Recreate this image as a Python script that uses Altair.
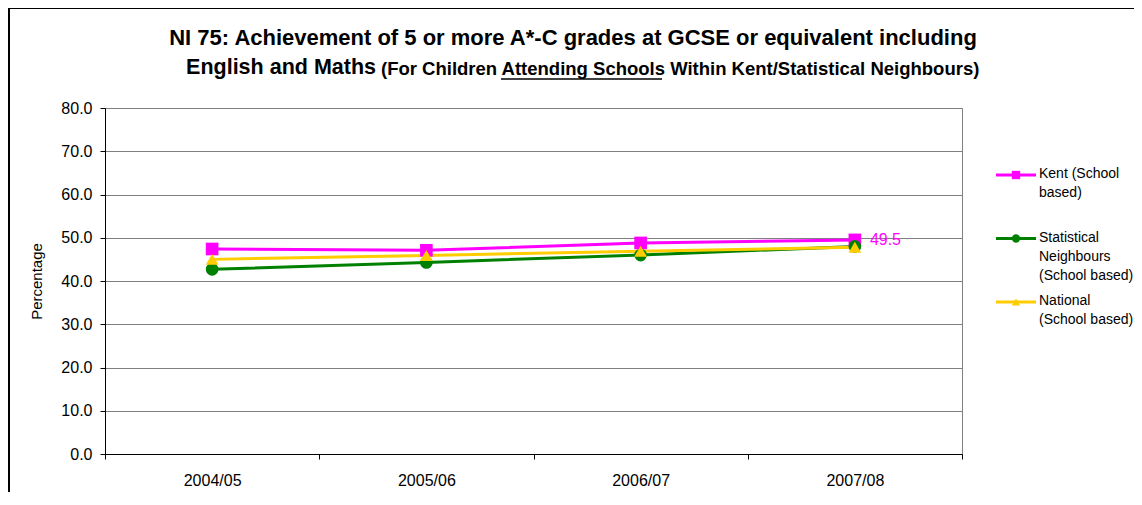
"""NI 75 line chart: 5+ A*-C GCSE incl. English and Maths (Kent vs neighbours vs national)."""

import json

import altair as alt
import pandas as pd

periods = ["2004/05", "2005/06", "2006/07", "2007/08"]
series = [
    "Kent (School based)",
    "Statistical Neighbours (School based)",
    "National (School based)",
]
legend_labels = [
    "Kent (School\nbased)",
    "Statistical\nNeighbours\n(School based)",
    "National\n(School based)",
]
kent = [47.4, 47.1, 48.8, 49.5]
stat_neighbours = [42.7, 44.3, 46.0, 48.0]
national = [45.0, 45.9, 46.9, 47.8]
y_ticks = [0, 10, 20, 30, 40, 50, 60, 70, 80]

title_line1 = "NI 75: Achievement of 5 or more A*-C grades at GCSE or equivalent including"
title_line2a = "English and Maths"
title_line2b = "(For Children Attending Schools Within Kent/Statistical Neighbours)"

colors = ["#FF00FF", "#008000", "#FFCC00"]
shapes = ["square", "circle", "triangle-up"]
FONT = "Liberation Sans"
W, H = 857, 346

# long table for the series
rows = []
for name, values in zip(series, [kent, stat_neighbours, national]):
    for i, (p, v) in enumerate(zip(periods, values)):
        rows.append({"series": name, "period": p, "idx": i, "value": v})
df = pd.DataFrame(rows)
df_legend = pd.DataFrame({"series": series, "label": legend_labels})

color_scale = alt.Scale(domain=series, range=colors)
shape_scale = alt.Scale(domain=series, range=shapes)

# category ticks sit on the band edges, labels are shifted to the middle
edges = [i - 0.5 for i in range(len(periods) + 1)]
label_expr = f"{json.dumps(periods)}[datum.value + 0.5] || ''"

x_enc = alt.X(
    "idx:Q",
    scale=alt.Scale(domain=[-0.5, len(periods) - 0.5], nice=False, zero=False),
    axis=alt.Axis(
        values=edges,
        labelExpr=label_expr,
        labelOffset=W / (2 * len(periods)),
        labelFlush=False,
        labelOverlap=False,
        labelBound=False,
        labelAlign="center",
        labelPadding=13,
        tickSize=5,
        grid=False,
        title=None,
    ),
)
y_enc = alt.Y(
    "value:Q",
    scale=alt.Scale(domain=[0, 80], nice=False),
    axis=alt.Axis(
        values=y_ticks,
        format=".1f",
        tickSize=5,
        labelPadding=8,
        grid=True,
        gridColor="#808080",
        title="Percentage",
        titleFontSize=15,
        titleFontWeight="normal",
        titlePadding=16,
    ),
)
color_enc = alt.Color("series:N", scale=color_scale, legend=None)
shape_enc = alt.Shape("series:N", scale=shape_scale, legend=None)

base = alt.Chart(df)
lines = base.mark_line(strokeWidth=3).encode(
    x=x_enc, y=y_enc, color=color_enc, detail="series:N"
)
points = base.mark_point(filled=True, size=160, opacity=1).encode(
    x="idx:Q", y="value:Q", color=color_enc, shape=shape_enc
)
last_label = (
    base.transform_filter(
        f"datum.series == {json.dumps(series[0])} && datum.period == {json.dumps(periods[-1])}"
    )
    .mark_text(align="left", baseline="middle", dx=15, fontSize=16, color=colors[0])
    .encode(x="idx:Q", y="value:Q", text=alt.Text("value:Q", format=".1f"))
)

# outer chart frame
frame = (
    alt.Chart(pd.DataFrame({"k": [0]}))
    .mark_rect(fillOpacity=0, stroke="black", strokeWidth=2)
    .encode(x=alt.value(-96), x2=alt.value(1300), y=alt.value(-100), y2=alt.value(700))
)

# title: two lines, second one in mixed sizes with an underline
one = pd.DataFrame({"t1": [title_line1], "t2a": [title_line2a], "t2b": [title_line2b]})
title1 = (
    alt.Chart(one)
    .mark_text(align="center", baseline="middle", fontSize=22, fontWeight="bold")
    .encode(x=alt.value(468), y=alt.value(-70), text="t1:N")
)
title2a = (
    alt.Chart(one)
    .mark_text(align="right", baseline="middle", fontSize=21.5, fontWeight="bold")
    .encode(x=alt.value(271), y=alt.value(-40), text="t2a:N")
)
title2b = (
    alt.Chart(one)
    .mark_text(align="left", baseline="middle", fontSize=18.5, fontWeight="bold")
    .encode(x=alt.value(276), y=alt.value(-39), text="t2b:N")
)
underline = (
    alt.Chart(one)
    .mark_rule(color="black", strokeWidth=1.5)
    .encode(x=alt.value(396), x2=alt.value(557), y=alt.value(-29))
)

# hand-made legend on the right
leg_y = alt.Y(
    "series:N",
    sort=series,
    scale=alt.Scale(type="point", range=[67, 194], padding=0),
    axis=None,
)
leg = alt.Chart(df_legend)
leg_rule = leg.mark_rule(strokeWidth=3).encode(
    x=alt.value(891), x2=alt.value(931), y=leg_y, color=color_enc
)
leg_point = leg.mark_point(filled=True, size=70, opacity=1).encode(
    x=alt.value(911), y=leg_y, color=color_enc, shape=shape_enc
)
leg_text = leg.mark_text(
    align="left", baseline="top", dy=-8, fontSize=14, lineHeight=19, lineBreak="\n"
).encode(x=alt.value(934), y=leg_y, text="label:N")

main = alt.layer(frame, lines, points, last_label, title1, title2a, title2b, underline)
legend = alt.layer(leg_rule, leg_point, leg_text)

chart = (
    alt.layer(main, legend)
    .resolve_scale(y="independent")
    .properties(
        width=W,
        height=H,
        padding={"left": 97, "top": 100, "right": 172, "bottom": 38},
        autosize=alt.AutoSizeParams(type="none"),
    )
    .configure(font=FONT)
    .configure_view(stroke="#808080", strokeWidth=1)
    .configure_axis(
        labelFont=FONT,
        titleFont=FONT,
        labelFontSize=16,
        labelColor="black",
        titleColor="black",
        domainColor="black",
        tickColor="black",
        domainWidth=1,
        tickWidth=1,
        gridWidth=1,
    )
)

chart.save("out.html", embed_options={"renderer": "svg", "actions": False})
